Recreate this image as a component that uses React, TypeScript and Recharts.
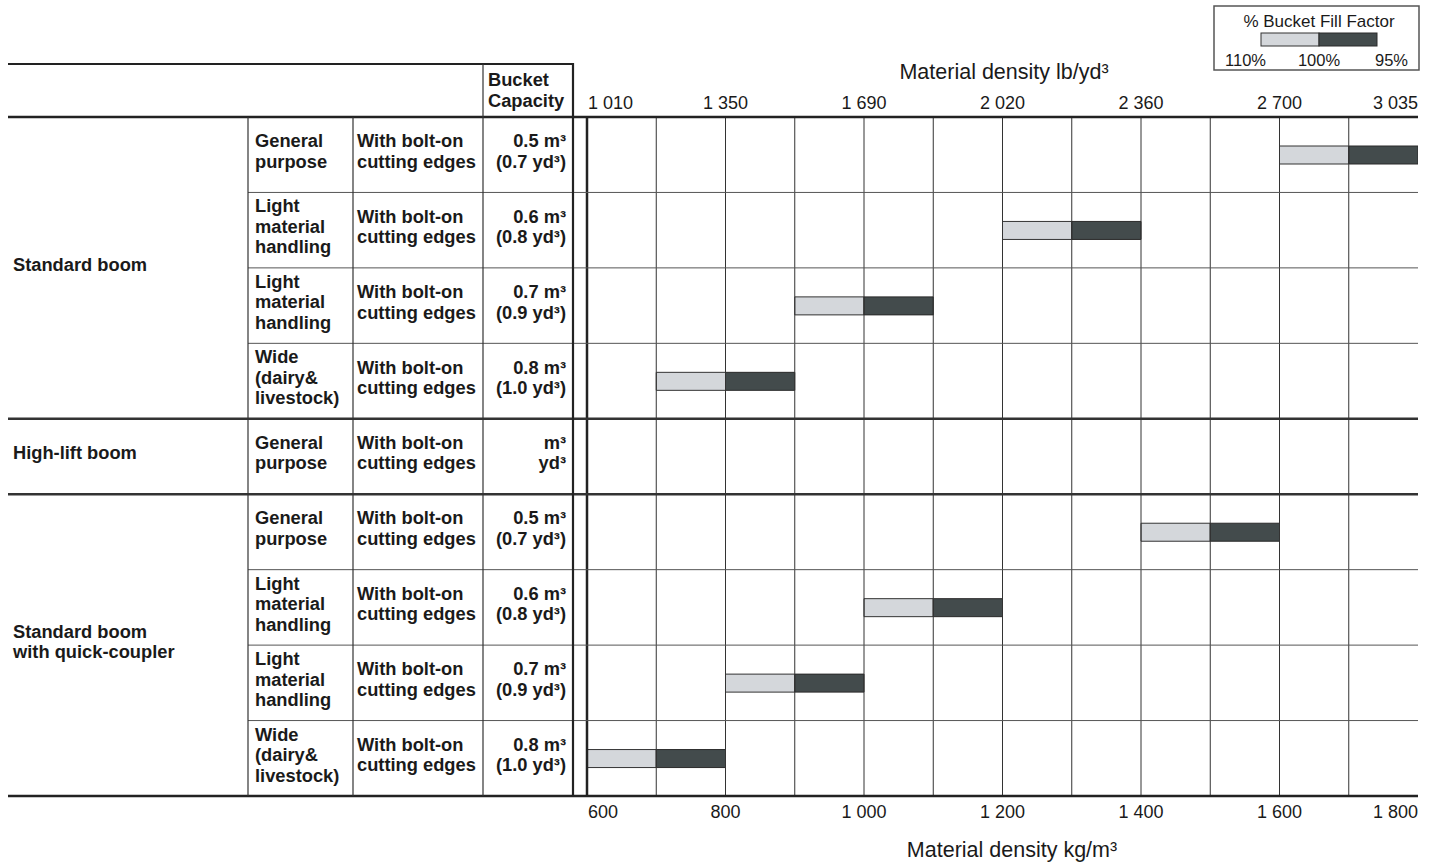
import { BarChart, Bar, XAxis, YAxis, ReferenceLine } from 'recharts';

// rows of the table, top to bottom
const rowIds = ['sb-gp', 'sb-lmh-06', 'sb-lmh-07', 'sb-wide', 'hl-gp', 'qc-gp', 'qc-lmh-06', 'qc-lmh-07', 'qc-wide'];
const bucketType = [
  'General\npurpose', 'Light\nmaterial\nhandling', 'Light\nmaterial\nhandling', 'Wide\n(dairy&\nlivestock)',
  'General\npurpose',
  'General\npurpose', 'Light\nmaterial\nhandling', 'Light\nmaterial\nhandling', 'Wide\n(dairy&\nlivestock)',
];
const edgeType = 'With bolt-on\ncutting edges';
const capM3 = ['0.5', '0.6', '0.7', '0.8', '', '0.5', '0.6', '0.7', '0.8'];
const capYd3 = ['0.7', '0.8', '0.9', '1.0', '', '0.7', '0.8', '0.9', '1.0'];
const groups = ['Standard boom', 'High-lift boom', 'Standard boom\nwith quick-coupler'];
const groupRows = [4, 1, 4];

// material density (kg/m3) at 110 %, 100 % and 95 % bucket fill factor
const fill110 = [1600, 1200, 900, 700, null, 1400, 1000, 800, 600];
const fill100 = [1700, 1300, 1000, 800, null, 1500, 1100, 900, 700];
const fill95 = [1800, 1400, 1100, 900, null, 1600, 1200, 1000, 800];

const kgTicks = [600, 800, 1000, 1200, 1400, 1600, 1800];
const kgLabels = ['600', '800', '1 000', '1 200', '1 400', '1 600', '1 800'];
const lbLabels = ['1 010', '1 350', '1 690', '2 020', '2 360', '2 700', '3 035'];
const gridKg = [700, 800, 900, 1000, 1100, 1200, 1300, 1400, 1500, 1600, 1700];

const data = rowIds.map((id, i) => ({
  id,
  light: fill110[i] == null ? null : [fill110[i], fill100[i]],
  dark: fill100[i] == null ? null : [fill100[i], fill95[i]],
}));

const W = 1435;
const H = 862;
const PLOT_L = 587;
const PLOT_R = 1418;
const PLOT_T = 117;
const PLOT_B = 796;
const ROW_H = (PLOT_B - PLOT_T) / rowIds.length;
const FONT = '"Liberation Sans", Arial, Helvetica, sans-serif';
const LIGHT = '#d4d7db';
const DARK = '#434b4c';
const INK = '#1a1a1a';

const tick = (labels: string[], baseline: number) => (props: any) => {
  const { x, index } = props;
  const last = index === labels.length - 1;
  const anchor = index === 0 ? 'start' : last ? 'end' : 'middle';
  return (
    <text x={index === 0 ? x + 1 : x} y={baseline} textAnchor={anchor} fontSize={18} fill={INK} fontFamily={FONT}>
      {labels[index]}
    </text>
  );
};

function Cell({ x1, x2, y1, y2, text, align = 'left', pad = 6, shift = 3 }: any) {
  return (
    <div style={{
      position: 'absolute', left: x1, top: y1 - shift, width: x2 - x1, height: y2 - y1,
      display: 'flex', alignItems: 'center', justifyContent: align === 'right' ? 'flex-end' : 'flex-start',
      boxSizing: 'border-box', paddingLeft: align === 'right' ? 0 : pad, paddingRight: align === 'right' ? pad : 0,
      fontFamily: FONT, fontWeight: 700, fontSize: 18.3, lineHeight: '20.5px', color: INK,
      whiteSpace: 'pre', textAlign: align,
    }}>
      {text}
    </div>
  );
}

export default function App() {
  const rowY = (i: number) => PLOT_T + i * ROW_H;
  const groupStart = groupRows.map((_, g) => groupRows.slice(0, g).reduce((a, b) => a + b, 0));
  const thickRows = groupStart.slice(1);

  return (
    <div style={{ position: 'absolute', left: 0, top: 0, width: W, height: H, background: '#fff' }}>
      <BarChart
        width={W}
        height={H}
        data={data}
        layout="vertical"
        margin={{ top: 0, right: W - PLOT_R, bottom: 0, left: PLOT_L }}
        barSize={18}
        barGap={-18}
        barCategoryGap={0}
        style={{ position: 'absolute', left: 0, top: 0 }}
      >
        <YAxis type="category" dataKey="id" hide />
        <XAxis
          type="number" domain={[600, 1800]} ticks={kgTicks} allowDataOverflow
          height={H - PLOT_B} axisLine={false} tickLine={false} interval={0}
          tick={tick(kgLabels, 818)}
        />
        <XAxis
          xAxisId="lb" orientation="top" type="number" domain={[600, 1800]} ticks={kgTicks} allowDataOverflow
          height={PLOT_T} axisLine={false} tickLine={false} interval={0}
          tick={tick(lbLabels, 109)}
        />
        {gridKg.map(v => (
          <ReferenceLine key={v} x={v} stroke="#333" strokeWidth={1} />
        ))}
        <ReferenceLine x={600} stroke="#222" strokeWidth={2.5} />
        <Bar dataKey="light" fill={LIGHT} stroke="#333" strokeWidth={1} isAnimationActive={false} />
        <Bar dataKey="dark" fill={DARK} stroke="#2a2a2a" strokeWidth={1} isAnimationActive={false} />
      </BarChart>

      <svg width={W} height={H} style={{ position: 'absolute', left: 0, top: 0, pointerEvents: 'none' }} fontFamily={FONT}>
        {/* table frame */}
        <line x1={8} x2={573} y1={64} y2={64} stroke="#222" strokeWidth={2} />
        <line x1={8} x2={PLOT_R} y1={PLOT_T} y2={PLOT_T} stroke="#222" strokeWidth={2.5} />
        <line x1={8} x2={PLOT_R} y1={PLOT_B} y2={PLOT_B} stroke="#222" strokeWidth={2.5} />
        {rowIds.map((_, i) => i === 0 ? null : thickRows.includes(i)
          ? <line key={i} x1={8} x2={PLOT_R} y1={rowY(i)} y2={rowY(i)} stroke="#333" strokeWidth={2.5} />
          : <line key={i} x1={248} x2={PLOT_R} y1={rowY(i)} y2={rowY(i)} stroke="#555" strokeWidth={1} />)}
        <line x1={248} x2={248} y1={PLOT_T} y2={PLOT_B} stroke="#333" strokeWidth={1.2} />
        <line x1={353} x2={353} y1={PLOT_T} y2={PLOT_B} stroke="#333" strokeWidth={1.2} />
        <line x1={483} x2={483} y1={64} y2={PLOT_B} stroke="#333" strokeWidth={1.2} />
        <line x1={573} x2={573} y1={63} y2={PLOT_B} stroke="#222" strokeWidth={2.2} />

        {/* axis titles */}
        <text x={1004} y={79} textAnchor="middle" fontSize={21.5} fill={INK}>Material density lb/yd³</text>
        <text x={1012} y={857} textAnchor="middle" fontSize={21.5} fill={INK}>Material density kg/m³</text>

        {/* legend */}
        <rect x={1214} y={6} width={205} height={64} fill="none" stroke="#555" strokeWidth={1.5} />
        <text x={1319} y={27} textAnchor="middle" fontSize={17} fill={INK}>% Bucket Fill Factor</text>
        <rect x={1261} y={33} width={58} height={13} fill={LIGHT} stroke="#333" strokeWidth={1} />
        <rect x={1319} y={33} width={58} height={13} fill={DARK} stroke="#2a2a2a" strokeWidth={1} />
        <text x={1225} y={66} fontSize={16.5} fill={INK}>110%</text>
        <text x={1319} y={66} textAnchor="middle" fontSize={16.5} fill={INK}>100%</text>
        <text x={1408} y={66} textAnchor="end" fontSize={16.5} fill={INK}>95%</text>
      </svg>

      {/* table text */}
      <Cell x1={483} x2={573} y1={64} y2={PLOT_T} text={'Bucket\nCapacity'} pad={5} shift={0} />
      {groups.map((g, k) => (
        <Cell key={g} x1={8} x2={248} y1={rowY(groupStart[k])} y2={rowY(groupStart[k] + groupRows[k])} text={g} pad={5} />
      ))}
      {rowIds.map((id, i) => (
        <div key={id}>
          <Cell x1={248} x2={353} y1={rowY(i)} y2={rowY(i + 1)} text={bucketType[i]} pad={7} />
          <Cell x1={353} x2={483} y1={rowY(i)} y2={rowY(i + 1)} text={edgeType} pad={4} />
          <Cell
            x1={483} x2={573} y1={rowY(i)} y2={rowY(i + 1)} align="right" pad={7}
            text={capM3[i] ? `${capM3[i]} m³\n(${capYd3[i]} yd³)` : 'm³\nyd³'}
          />
        </div>
      ))}
    </div>
  );
}
